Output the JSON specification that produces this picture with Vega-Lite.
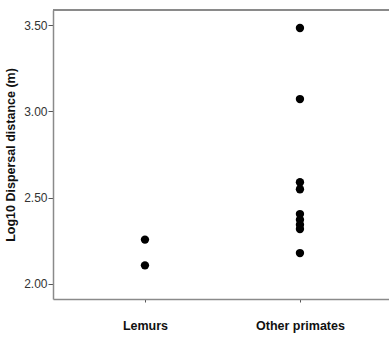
{
  "$schema": "https://vega.github.io/schema/vega-lite/v6.json",
  "autosize": {"type": "none"},
  "padding": {"left": 53, "top": 10, "right": 0, "bottom": 38},
  "width": 345,
  "height": 289,
  "background": "white",
  "config": {
    "view": {"stroke": null},
    "font": "Liberation Sans"
  },
  "data": {
    "values": [
      {"group": "Lemurs", "value": 2.257},
      {"group": "Lemurs", "value": 2.108},
      {"group": "Other primates", "value": 3.483},
      {"group": "Other primates", "value": 3.071},
      {"group": "Other primates", "value": 2.589},
      {"group": "Other primates", "value": 2.549},
      {"group": "Other primates", "value": 2.405},
      {"group": "Other primates", "value": 2.372},
      {"group": "Other primates", "value": 2.343},
      {"group": "Other primates", "value": 2.318},
      {"group": "Other primates", "value": 2.179}
    ]
  },
  "layer": [
    {
      "mark": {"type": "rule", "color": "#8a8a8a", "strokeWidth": 1.5},
      "encoding": {"y": {"datum": 3.587}}
    },
    {
      "mark": {"type": "circle", "size": 70, "color": "black", "opacity": 1},
      "encoding": {
        "x": {
          "field": "group",
          "type": "nominal",
          "scale": {"type": "point", "padding": 0.6129, "align": 0.484},
          "axis": {
            "title": null,
            "labelAngle": 0,
            "labelFont": "Liberation Sans",
            "labelFontSize": 12.5,
            "labelFontWeight": "bold",
            "labelColor": "#111",
            "labelPadding": 17,
            "domain": true,
            "domainColor": "#8a8a8a",
            "domainWidth": 1.5,
            "tickSize": 3,
            "tickColor": "#555"
          }
        },
        "y": {
          "field": "value",
          "type": "quantitative",
          "scale": {"domain": [1.913, 3.587], "nice": false, "zero": false},
          "axis": {
            "title": "Log10 Dispersal distance (m)",
            "titleFont": "Liberation Sans",
            "titleFontSize": 12.5,
            "titleFontWeight": "bold",
            "titleColor": "#111",
            "titlePadding": 6,
            "values": [2.0, 2.5, 3.0, 3.5],
            "format": ".2f",
            "labelFont": "Liberation Sans",
            "labelFontSize": 12,
            "labelColor": "#333",
            "grid": false,
            "domain": true,
            "domainColor": "#8a8a8a",
            "domainWidth": 1.5,
            "tickSize": 5,
            "tickColor": "#555",
            "labelPadding": 1
          }
        }
      }
    }
  ]
}
